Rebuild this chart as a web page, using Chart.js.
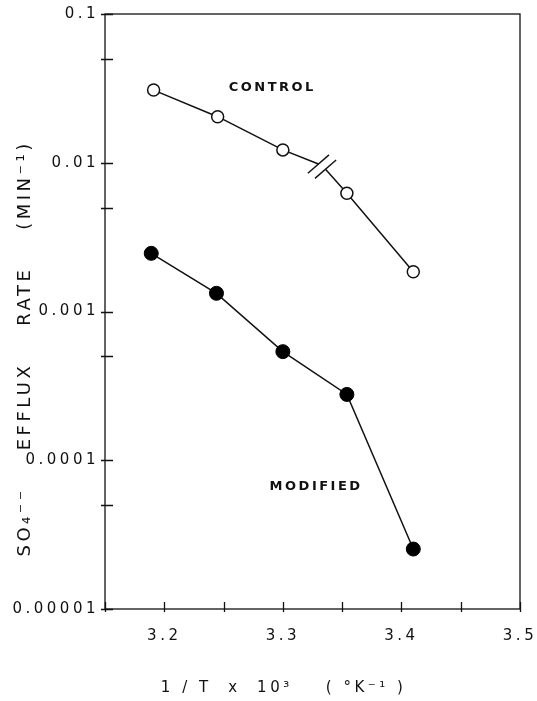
<!DOCTYPE html>
<html>
<head>
<meta charset="utf-8">
<script src="https://cdn.jsdelivr.net/npm/chart.js@4/dist/chart.umd.min.js"></script>
<style>
  html, body { margin: 0; padding: 0; background: #fff; }
  #wrap { width: 537px; height: 701px; }
</style>
</head>
<body>
<div id="wrap"><canvas id="c" width="537" height="701"></canvas></div>
<script>
// ---- data ----
const controlX = [3.191, 3.245, 3.300, 3.354, 3.410];
const controlRate = [0.0308, 0.0204, 0.0122, 0.00623, 0.00185];
const modifiedX = [3.189, 3.244, 3.300, 3.354, 3.410];
const modifiedRate = [0.00246, 0.001325, 0.000537, 0.000277, 0.0000253];
// ends of the control line on either side of the "//" break mark
const breakX = [3.3300, 3.3360];
const breakRate = [0.0098, 0.00905];
// axis ticks
const xTickValues = [3.15, 3.2, 3.25, 3.3, 3.35, 3.4, 3.45, 3.5];
const xTickLabels = ['', '3.2', '', '3.3', '', '3.4', '', '3.5'];
const yTickValues = [0.00001, 0.00005, 0.0001, 0.0005, 0.001, 0.005, 0.01, 0.05, 0.1];
const yTickLabels = ['0.00001', '', '0.0001', '', '0.001', '', '0.01', '', '0.1'];
// series labels drawn in the plot
const seriesLabels = ['CONTROL', 'MODIFIED'];
const seriesLabelX = [3.290, 3.327];
const seriesLabelRate = [0.0322, 0.000066];

const FONT = "'DejaVu Sans', sans-serif";
const SPACING = '3.5px';

const controlPts = controlX.map((x, i) => ({x, y: controlRate[i]}));
const breakPts = breakX.map((x, i) => ({x, y: breakRate[i]}));
const controlLine = [...controlPts.slice(0, 3), breakPts[0], breakPts[1], ...controlPts.slice(3)];
const modifiedPts = modifiedX.map((x, i) => ({x, y: modifiedRate[i]}));

const deco = {
  id: 'deco',
  beforeUpdate(chart) { chart.ctx.letterSpacing = SPACING; },
  beforeDraw(chart) { chart.ctx.letterSpacing = SPACING; },
  beforeDatasetsDraw(chart) {
    const {ctx, chartArea: a, scales: {x, y}} = chart;
    ctx.save();
    ctx.strokeStyle = '#111';
    ctx.lineWidth = 1.3;
    ctx.strokeRect(a.left, a.top, a.right - a.left, a.bottom - a.top);
    ctx.beginPath();
    x.ticks.forEach(t => {
      const px = Math.round(x.getPixelForValue(t.value)) + 0.5;
      ctx.moveTo(px, a.bottom + 3);
      ctx.lineTo(px, a.bottom - 7);
    });
    y.ticks.forEach(t => {
      const py = Math.round(y.getPixelForValue(t.value)) + 0.5;
      ctx.moveTo(a.left - 4, py);
      ctx.lineTo(a.left + 8, py);
    });
    ctx.stroke();
    ctx.restore();
  },
  afterDatasetsDraw(chart) {
    const {ctx, scales: {x, y}} = chart;
    ctx.save();
    // break mark: two parallel strokes
    ctx.strokeStyle = '#111';
    ctx.lineWidth = 1.4;
    const dx = 0.755 * 14, dy = -0.655 * 14;
    breakPts.forEach(p => {
      const px = x.getPixelForValue(p.x), py = y.getPixelForValue(p.y);
      ctx.beginPath();
      ctx.moveTo(px - dx, py - dy);
      ctx.lineTo(px + dx, py + dy);
      ctx.stroke();
    });
    // series labels
    ctx.fillStyle = '#111';
    ctx.font = "bold 13px " + FONT;
    ctx.letterSpacing = '2.5px';
    ctx.textAlign = 'center';
    ctx.textBaseline = 'middle';
    seriesLabels.forEach((s, i) => {
      ctx.fillText(s, x.getPixelForValue(seriesLabelX[i]) + 1.25, y.getPixelForValue(seriesLabelRate[i]));
    });
    ctx.restore();
  }
};

new Chart(document.getElementById('c'), {
  type: 'scatter',
  data: {
    datasets: [
      {
        label: 'Control',
        data: controlLine,
        showLine: true,
        borderColor: '#111',
        borderWidth: 1.5,
        backgroundColor: '#fff',
        pointBackgroundColor: '#fff',
        pointBorderColor: '#111',
        pointBorderWidth: 1.5,
        pointRadius: controlLine.map((p, i) => (i === 3 || i === 4) ? 0 : 6),
        segment: { borderColor: c => c.p0DataIndex === 3 ? 'rgba(0,0,0,0)' : '#111' }
      },
      {
        label: 'Modified',
        data: modifiedPts,
        showLine: true,
        borderColor: '#111',
        borderWidth: 1.5,
        backgroundColor: '#000',
        pointBackgroundColor: '#000',
        pointBorderColor: '#000',
        pointBorderWidth: 1,
        pointRadius: 7
      }
    ]
  },
  options: {
    responsive: false,
    animation: false,
    devicePixelRatio: 1,
    layout: { padding: { left: 0, right: 17, top: 14, bottom: 3 } },
    plugins: { legend: { display: false }, tooltip: { enabled: false } },
    scales: {
      x: {
        type: 'linear',
        min: 3.15, max: 3.5,
        grid: { display: false, drawTicks: false },
        border: { display: false },
        afterBuildTicks: s => { s.ticks = xTickValues.map(v => ({value: v})); },
        afterFit: s => { s.height = 89; s.paddingLeft = 0; s.paddingRight = 0; },
        ticks: {
          autoSkip: false, maxRotation: 0,
          color: '#111',
          font: { family: FONT, size: 15 },
          padding: 18,
          callback: (v, i) => xTickLabels[i]
        },
        title: {
          display: true,
          text: '1 / T  x  10³    ( °K⁻¹ )       ',
          color: '#111',
          font: { family: FONT, size: 15 },
          padding: { top: 0, bottom: 1 }
        }
      },
      y: {
        type: 'logarithmic',
        min: 0.00001, max: 0.1,
        grid: { display: false, drawTicks: false },
        border: { display: false },
        afterBuildTicks: s => { s.ticks = yTickValues.map(v => ({value: v})); },
        afterFit: s => { s.width = 105; s.paddingTop = 0; s.paddingBottom = 0; },
        ticks: {
          autoSkip: false,
          color: '#111',
          font: { family: FONT, size: 15 },
          padding: 6,
          callback: (v, i) => yTickLabels[i]
        },
        title: {
          display: true,
          text: 'SO₄⁻⁻    EFFLUX    RATE    (MIN⁻¹)        ',
          color: '#111',
          font: { family: FONT, size: 18 },
          padding: { top: 15, bottom: 0 }
        }
      }
    }
  },
  plugins: [deco]
});
</script>
</body>
</html>
